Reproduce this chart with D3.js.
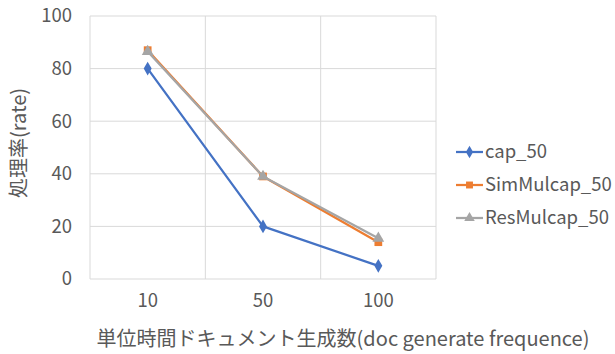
<!DOCTYPE html>
<html><head><meta charset="utf-8">
<script src="https://cdn.jsdelivr.net/npm/d3@7"></script>
<style>
body{margin:0;background:#fff;}
text{font-family:"Noto Sans CJK JP","Noto Sans",sans-serif;fill:#595959;}
</style></head>
<body><svg id="c" width="615" height="354"></svg>
<script>
const categories = ["10","50","100"];
const cap50 = [80, 20, 5];
const simMulcap50 = [87, 39, 14];
const resMulcap50 = [86.5, 39, 15.5];
const yTicks = [0,20,40,60,80,100];
const seriesNames = ["cap_50","SimMulcap_50","ResMulcap_50"];
const seriesColors = ["#4472C4","#ED7D31","#A5A5A5"];
const seriesMarkers = ["diamond","square","triangle"];
const yTitle = "処理率(rate)";
const xTitle = "単位時間ドキュメント生成数(doc generate frequence)";

const series = [cap50, simMulcap50, resMulcap50].map((v,i)=>({name:seriesNames[i],color:seriesColors[i],marker:seriesMarkers[i],values:v}));

const svg = d3.select("#c");
const m = {l:90, r:436, t:16, b:279};
const x = d3.scaleBand().domain(categories).range([m.l, m.r]);
const y = d3.scaleLinear().domain([0,100]).range([m.b, m.t]);

// grid
const g = svg.append("g");
g.selectAll("line.h").data(yTicks).enter().append("line")
 .attr("x1",m.l).attr("x2",m.r).attr("y1",d=>y(d)).attr("y2",d=>y(d))
 .attr("stroke","#D9D9D9").attr("stroke-width",1);
const vlines = categories.map(c=>x(c)).concat([x(categories[categories.length-1])+x.bandwidth()]);
g.selectAll("line.v").data(vlines).enter().append("line")
 .attr("x1",d=>d).attr("x2",d=>d).attr("y1",m.t).attr("y2",m.b)
 .attr("stroke","#D9D9D9").attr("stroke-width",1);

const tickFont = 18.5;
// y axis labels
const yAxis = d3.axisLeft(y).tickValues(yTicks).tickSize(0).tickPadding(0);
const ya = svg.append("g").attr("transform",`translate(${72},0)`).call(yAxis);
ya.select(".domain").remove();
ya.selectAll("text").attr("font-size",tickFont).style("fill","#595959").style("font-family",'"Noto Sans CJK JP",sans-serif');

// x axis labels
const xAxis = d3.axisBottom(x).tickSize(0).tickPadding(0);
const xa = svg.append("g").attr("transform",`translate(0,${294})`).call(xAxis);
xa.select(".domain").remove();
xa.selectAll("text").attr("font-size",tickFont).style("fill","#595959").style("font-family",'"Noto Sans CJK JP",sans-serif');

const cx = c => x(c) + x.bandwidth()/2;
const line = d3.line().x((d,i)=>cx(categories[i])).y(d=>y(d));

const sym = {diamond:d3.symbolDiamond, square:d3.symbolSquare, triangle:d3.symbolTriangle};
const symSize = {diamond:55, square:60, triangle:60};

series.forEach(s=>{
  svg.append("path").datum(s.values).attr("d",line)
    .attr("fill","none").attr("stroke",s.color).attr("stroke-width",2.25).attr("stroke-linejoin","round");
  svg.selectAll(null).data(s.values).enter().append("path")
    .attr("d",d3.symbol().type(sym[s.marker]).size(symSize[s.marker]))
    .attr("transform",(d,i)=>`translate(${cx(categories[i])},${y(d)})`)
    .attr("fill",s.color);
});

// legend
const lg = svg.append("g");
series.forEach((s,i)=>{
  const ly = 152 + i*33;
  lg.append("line").attr("x1",456).attr("x2",483).attr("y1",ly).attr("y2",ly)
    .attr("stroke",s.color).attr("stroke-width",2.25);
  lg.append("path").attr("d",d3.symbol().type(sym[s.marker]).size(symSize[s.marker]*0.8))
    .attr("transform",`translate(469.5,${ly})`).attr("fill",s.color);
  lg.append("text").attr("x",485).attr("y",ly).attr("dy","0.35em").attr("font-size",tickFont).text(s.name);
});

// titles
svg.append("text").attr("transform",`translate(19,${143}) rotate(-90)`)
  .attr("text-anchor","middle").attr("dy","0.35em").attr("font-size",20).text(yTitle);
svg.append("text").attr("x",343).attr("y",339).attr("dy","0.35em")
  .attr("text-anchor","middle").attr("font-size",20).text(xTitle);
</script></body></html>
